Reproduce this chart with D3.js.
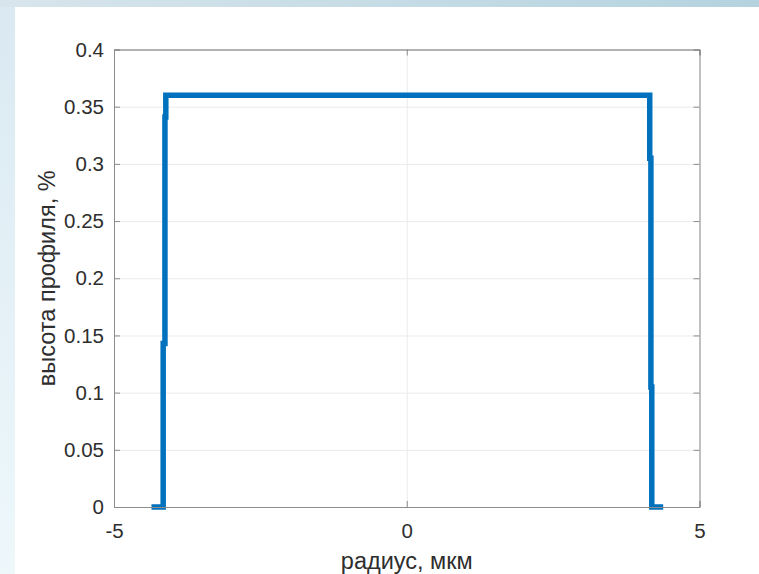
<!DOCTYPE html>
<html>
<head>
<meta charset="utf-8">
<script src="https://cdn.jsdelivr.net/npm/d3@7"></script>
<style>
  body { margin: 0; padding: 0; background: #fff; }
  svg { display: block; }
</style>
</head>
<body>
<div id="chart"></div>
<script>
// step profile
const radius = [-4.36, -4.16, -4.16, -4.13, -4.13, -4.115, -4.115, 4.15, 4.15, 4.17, 4.17, 4.185, 4.185, 4.38];
const profile = [0, 0, 0.143, 0.143, 0.341, 0.341, 0.36, 0.36, 0.305, 0.305, 0.105, 0.105, 0, 0];

const xTicks = [-5, 0, 5];
const yTicks = [0, 0.05, 0.1, 0.15, 0.2, 0.25, 0.3, 0.35, 0.4];

const width = 759;
const height = 574;
const margin = { top: 49.5, right: 59.5, bottom: 67, left: 114 };
const innerW = width - margin.left - margin.right;
const innerH = height - margin.top - margin.bottom;

const svg = d3.select("#chart")
    .append("svg")
    .attr("width", width)
    .attr("height", height)
    .style("font-family", "'Liberation Sans', Arial, sans-serif");

// slide background around the figure
const defs = svg.append("defs");
const topGrad = defs.append("linearGradient").attr("id", "topGrad")
    .attr("x1", "0%").attr("x2", "100%").attr("y1", "0%").attr("y2", "0%");
topGrad.append("stop").attr("offset", "0%").attr("stop-color", "#d8e5ec");
topGrad.append("stop").attr("offset", "100%").attr("stop-color", "#b4d3df");
const leftGrad = defs.append("linearGradient").attr("id", "leftGrad")
    .attr("x1", "0%").attr("x2", "0%").attr("y1", "0%").attr("y2", "100%");
leftGrad.append("stop").attr("offset", "0%").attr("stop-color", "#dae9f2");
leftGrad.append("stop").attr("offset", "100%").attr("stop-color", "#eef8fb");

svg.append("rect").attr("width", width).attr("height", 7).attr("fill", "url(#topGrad)");
svg.append("rect").attr("y", 7).attr("width", 15).attr("height", height - 7).attr("fill", "url(#leftGrad)");

const g = svg.append("g")
    .attr("transform", `translate(${margin.left},${margin.top})`);

const xScale = d3.scaleLinear().domain([-5, 5]).range([0, innerW]);
const yScale = d3.scaleLinear().domain([0, 0.4]).range([innerH, 0]);

// grid
g.append("g")
    .call(d3.axisBottom(xScale).tickValues(xTicks).tickSize(-innerH).tickFormat(""))
    .attr("transform", `translate(0,${innerH})`)
    .call(a => a.select(".domain").remove())
    .selectAll("line").attr("stroke", "#ebebeb");

g.append("g")
    .call(d3.axisLeft(yScale).tickValues(yTicks).tickSize(-innerW).tickFormat(""))
    .call(a => a.select(".domain").remove())
    .selectAll("line").attr("stroke", "#ebebeb");

// profile line
const line = d3.line()
    .x((d, i) => xScale(radius[i]))
    .y(d => yScale(d));

g.append("path")
    .datum(profile)
    .attr("fill", "none")
    .attr("stroke", "#0072bd")
    .attr("stroke-width", 5.5)
    .attr("stroke-linejoin", "miter")
    .attr("d", line);

// axes with inward ticks on all four sides
const axisColor = "#8c8c8c";
const textColor = "#2e2e2e";

const xAxis = g.append("g")
    .attr("transform", `translate(0,${innerH})`)
    .call(d3.axisBottom(xScale).tickValues(xTicks).tickSize(-6).tickPadding(0).tickFormat(d3.format("d")));
xAxis.select(".domain").attr("stroke", axisColor);
xAxis.selectAll("line").attr("stroke", axisColor);
xAxis.selectAll("text")
    .attr("fill", textColor)
    .attr("font-size", "20.5px")
    .attr("y", 31)
    .attr("dy", 0)
    .text(d => d < 0 ? "-" + Math.abs(d) : d);

const xTop = g.append("g")
    .call(d3.axisTop(xScale).tickValues(xTicks).tickSize(-6).tickFormat(""));
xTop.select(".domain").attr("stroke", "#707070");
xTop.selectAll("line").attr("stroke", axisColor);

const yAxis = g.append("g")
    .call(d3.axisLeft(yScale).tickValues(yTicks).tickSize(-6).tickPadding(0).tickFormat(d => d3.format("")(+d.toFixed(2))));
yAxis.select(".domain").attr("stroke", axisColor);
yAxis.selectAll("line").attr("stroke", axisColor);
yAxis.selectAll("text")
    .attr("fill", textColor)
    .attr("font-size", "20.5px")
    .attr("x", -10);

const yRight = g.append("g")
    .attr("transform", `translate(${innerW},0)`)
    .call(d3.axisRight(yScale).tickValues(yTicks).tickSize(-6).tickFormat(""));
yRight.select(".domain").attr("stroke", axisColor);
yRight.selectAll("line").attr("stroke", axisColor);

// axis titles
g.append("text")
    .attr("x", innerW / 2)
    .attr("y", innerH + 62)
    .attr("text-anchor", "middle")
    .attr("fill", textColor)
    .attr("font-size", "23.5px")
    .text("радиус, мкм");

g.append("text")
    .attr("transform", `translate(${55 - margin.left},${innerH / 2}) rotate(-90)`)
    .attr("text-anchor", "middle")
    .attr("fill", textColor)
    .attr("font-size", "23.5px")
    .text("высота профиля, %");
</script>
</body>
</html>
